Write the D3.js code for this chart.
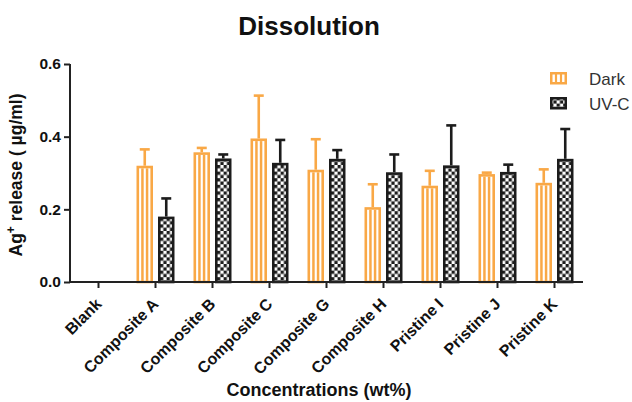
<!DOCTYPE html>
<html>
<head>
<meta charset="utf-8">
<script src="https://cdn.jsdelivr.net/npm/d3@7"></script>
<style>
  body { margin: 0; background: #fff; }
  svg { display: block; font-family: "Liberation Sans", Arial, sans-serif; }
</style>
</head>
<body>
<svg id="chart" width="632" height="402"></svg>
<script>
const categories = ["Blank", "Composite A", "Composite B", "Composite C", "Composite G", "Composite H", "Pristine I", "Pristine J", "Pristine K"];
const series = ["Dark", "UV-C"];
const darkValues = [null, 0.320, 0.357, 0.395, 0.309, 0.206, 0.265, 0.297, 0.273];
const darkErrors = [null, 0.045, 0.012, 0.118, 0.084, 0.063, 0.041, 0.004, 0.037];
const uvValues   = [null, 0.180, 0.340, 0.328, 0.339, 0.302, 0.321, 0.303, 0.339];
const uvErrors   = [null, 0.050, 0.011, 0.063, 0.024, 0.049, 0.110, 0.020, 0.082];
const yTicks = [0.0, 0.2, 0.4, 0.6];

const orange = "#F9A846";
const black = "#1c1c1c";

const svg = d3.select("#chart");
const pLeft = 70, pRight = 583, pTop = 64, pBottom = 282;

const x0 = d3.scaleBand().domain(categories).range([pLeft, pRight]).paddingInner(0).paddingOuter(0);
const x1 = d3.scaleBand().domain(series).range([0, x0.bandwidth()]).paddingInner(0.233).paddingOuter(0.442);
const y = d3.scaleLinear().domain([0, 0.6]).range([pBottom, pTop]);

// checker pattern
const defs = svg.append("defs");
const pat = defs.append("pattern").attr("id", "checker").attr("patternUnits", "userSpaceOnUse")
  .attr("width", 6.6).attr("height", 6.6);
pat.append("rect").attr("width", 6.6).attr("height", 6.6).attr("fill", "#fff");
pat.append("rect").attr("width", 3.3).attr("height", 3.3).attr("fill", black);
pat.append("rect").attr("x", 3.3).attr("y", 3.3).attr("width", 3.3).attr("height", 3.3).attr("fill", black);

// Title
svg.append("text").attr("x", 309).attr("y", 35).attr("text-anchor", "middle")
  .attr("font-size", 26).attr("font-weight", "bold").attr("fill", "#111").text("Dissolution");

const rows = categories.map((c, i) => ({ cat: c, items: [
  { s: "Dark", v: darkValues[i], e: darkErrors[i], color: orange },
  { s: "UV-C", v: uvValues[i], e: uvErrors[i], color: black }
].filter(d => d.v != null) }));

const sw = 2.6;
const g = svg.append("g");
const groups = g.selectAll("g.cat").data(rows).join("g").attr("class", "cat")
  .attr("transform", d => `translate(${x0(d.cat)},0)`);

groups.selectAll("g.err").data(d => d.items).join("g").attr("class", "err").each(function(d) {
  const cx = x1(d.s) + x1.bandwidth() / 2;
  const sel = d3.select(this);
  sel.append("line").attr("x1", cx).attr("x2", cx).attr("y1", y(d.v)).attr("y2", y(d.v + d.e))
    .attr("stroke", d.color).attr("stroke-width", 2.6);
  sel.append("line").attr("x1", cx - 5).attr("x2", cx + 5).attr("y1", y(d.v + d.e)).attr("y2", y(d.v + d.e))
    .attr("stroke", d.color).attr("stroke-width", 2.6);
});

groups.selectAll("g.bar").data(d => d.items).join("g").attr("class", "bar").each(function(d) {
  const bx = x1(d.s), bw = x1.bandwidth();
  const sel = d3.select(this);
  const yt = y(d.v), yb = y(0);
  if (d.s === "Dark") {
    sel.append("rect").attr("x", bx + sw / 2).attr("y", yt + sw / 2).attr("width", bw - sw).attr("height", yb - yt - sw / 2)
      .attr("fill", "#fff").attr("stroke", orange).attr("stroke-width", sw);
    [1 / 3, 2 / 3].forEach(f => {
      const lx = bx + sw / 2 + (bw - sw) * f;
      sel.append("line").attr("x1", lx).attr("x2", lx).attr("y1", yt + sw).attr("y2", yb)
        .attr("stroke", orange).attr("stroke-width", 2.5);
    });
  } else {
    sel.append("rect").attr("x", bx + sw / 2).attr("y", yt + sw / 2).attr("width", bw - sw).attr("height", yb - yt - sw / 2)
      .attr("fill", "url(#checker)").attr("stroke", black).attr("stroke-width", sw);
  }
});

// Axes
const yAxis = d3.axisLeft(y).tickValues(yTicks).tickFormat(d3.format(".1f")).tickSize(6).tickPadding(3);
const yg = svg.append("g").attr("transform", `translate(${pLeft},0)`).call(yAxis);
yg.select(".domain").attr("stroke", "#222").attr("stroke-width", 2).attr("d", `M0,${pTop}V${pBottom + 1}`);
yg.selectAll(".tick line").attr("stroke", "#222").attr("stroke-width", 2);
yg.selectAll(".tick text").attr("font-size", 15.5).attr("font-weight", "bold").attr("fill", "#111")
  .attr("font-family", "Liberation Sans, Arial, sans-serif");

const xAxis = d3.axisBottom(x0).tickSize(6).tickFormat("");
const xg = svg.append("g").attr("transform", `translate(0,${pBottom})`).call(xAxis);
xg.select(".domain").attr("stroke", "#222").attr("stroke-width", 2).attr("d", `M${pLeft - 1},0H${pRight}`);
xg.selectAll(".tick line").attr("stroke", "#222").attr("stroke-width", 2);

svg.append("g").selectAll("text").data(categories).join("text")
  .attr("transform", d => `translate(${x0(d) + x0.bandwidth() / 2 + 4},${pBottom + 23}) rotate(-45)`)
  .attr("text-anchor", "end").attr("font-size", 16).attr("font-weight", "bold").attr("fill", "#111")
  .text(d => d);

// Axis titles
svg.append("text").attr("x", 319).attr("y", 396).attr("text-anchor", "middle")
  .attr("font-size", 18).attr("font-weight", "bold").attr("fill", "#111").text("Concentrations (wt%)");

const yl = svg.append("text").attr("transform", "translate(22,175) rotate(-90)").attr("text-anchor", "middle")
  .attr("font-size", 17.5).attr("font-weight", "bold").attr("fill", "#111");
yl.append("tspan").text("Ag");
yl.append("tspan").attr("font-size", 12).attr("dy", -7).text("+");
yl.append("tspan").attr("dy", 7).text(" release ( µg/ml)");

// Legend
const legend = svg.append("g");
const lg = legend.selectAll("g").data(series).join("g")
  .attr("transform", (d, i) => `translate(550,${72 + i * 25})`);
lg.each(function(d) {
  const sel = d3.select(this);
  if (d === "Dark") {
    sel.append("rect").attr("x", 1.25).attr("y", 1.25).attr("width", 14.5).attr("height", 10)
      .attr("fill", "#fff").attr("stroke", orange).attr("stroke-width", 2.5);
    [6, 11].forEach(lx => sel.append("line").attr("x1", lx).attr("x2", lx).attr("y1", 2).attr("y2", 11)
      .attr("stroke", orange).attr("stroke-width", 2.2));
  } else {
    sel.append("rect").attr("x", 1.25).attr("y", 1.25).attr("width", 14.5).attr("height", 10)
      .attr("fill", "url(#checker)").attr("stroke", black).attr("stroke-width", 2.5);
  }
  sel.append("text").attr("x", 39).attr("y", 13).attr("font-size", 17).attr("fill", "#333").text(d);
});
</script>
</body>
</html>
